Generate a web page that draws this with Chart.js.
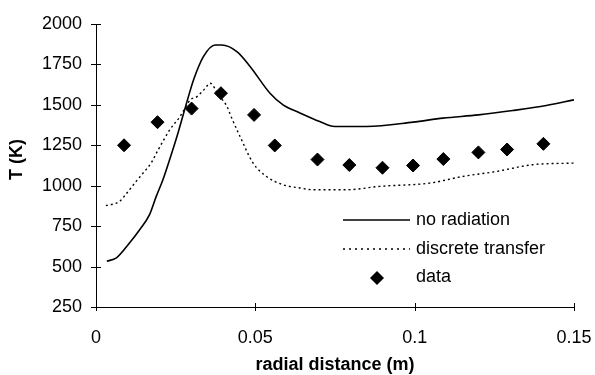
<!DOCTYPE html>
<html>
<head>
<meta charset="utf-8">
<script src="https://cdn.jsdelivr.net/npm/chart.js@4/dist/chart.umd.min.js"></script>
<style>
html,body{margin:0;padding:0;background:#fff;}
#wrap{position:relative;width:595px;height:375px;}
</style>
</head>
<body>
<div id="wrap"><canvas id="c" width="595" height="375"></canvas></div>
<script>
// ---- data ----
const noRadX = [0.0034,0.0064,0.0105,0.0137,0.0168,0.0189,0.021,0.0241,0.0254,0.029,0.0306,0.0337,0.0374,0.0395,0.0442,0.0484,0.0546,0.0587,0.064,0.0702,0.0749,0.0849,0.0995,0.1089,0.120,0.1308,0.1413,0.150];
const noRadY = [533,554,646,728,821,934,1037,1222,1304,1551,1654,1798,1870,1870,1829,1736,1572,1500,1450,1397,1366,1366,1393,1418,1438,1465,1496,1531];
const dtX = [0.0031,0.0074,0.009,0.0126,0.0152,0.0173,0.0194,0.0233,0.0264,0.0296,0.0317,0.0343,0.0358,0.0384,0.0411,0.0426,0.0452,0.0493,0.0535,0.0587,0.064,0.0681,0.0786,0.089,0.1047,0.115,0.1256,0.137,0.150];
const dtY = [877,903,938,1027,1088,1140,1218,1350,1428,1531,1551,1603,1634,1562,1490,1418,1304,1140,1057,1006,986,975,975,996,1016,1057,1088,1130,1140];
const dataX = [0.0088,0.0193,0.030,0.0392,0.0496,0.0561,0.0695,0.0795,0.0899,0.0995,0.109,0.120,0.129,0.1404];
const dataY = [1250,1393,1477,1572,1438,1249,1162,1128,1111,1125,1165,1206,1224,1259];
const xTicks = [0,0.05,0.1,0.15];
const yTicks = [250,500,750,1000,1250,1500,1750,2000];
const seriesNames = ['no radiation','discrete transfer','data'];
const xTitle = 'radial distance (m)';
const yTitle = 'T (K)';

const pts = (xs, ys) => xs.map((x, i) => ({x: x, y: ys[i]}));
const FONT = "'Liberation Sans', Arial, sans-serif";

const crossTicks = {
  id: 'crossTicks',
  afterDraw(chart) {
    const ctx = chart.ctx, xs = chart.scales.x, ys = chart.scales.y;
    ctx.save();
    ctx.strokeStyle = '#000';
    ctx.lineWidth = 1;
    ctx.beginPath();
    yTicks.forEach(v => {
      const p = Math.round(ys.getPixelForValue(v)) + 0.5;
      ctx.moveTo(xs.left - 5, p); ctx.lineTo(xs.left + 5, p);
    });
    xTicks.forEach(v => {
      const p = Math.round(xs.getPixelForValue(v)) + 0.5;
      ctx.moveTo(p, ys.bottom - 4); ctx.lineTo(p, ys.bottom + 4);
    });
    ctx.stroke();
    // axis titles
    ctx.fillStyle = '#000';
    ctx.font = 'bold 18px ' + FONT;
    ctx.textAlign = 'center';
    ctx.textBaseline = 'middle';
    ctx.fillText(xTitle, (xs.left + xs.right) / 2, 365);
    ctx.translate(17, (ys.top + ys.bottom) / 2 - 6);
    ctx.rotate(-Math.PI / 2);
    ctx.fillText(yTitle, 0, 0);
    ctx.restore();
  }
};

const legendBox = {
  id: 'legendBox',
  afterDraw(chart) {
    const ctx = chart.ctx;
    ctx.save();
    ctx.font = '18px ' + FONT;
    ctx.fillStyle = '#000';
    ctx.textBaseline = 'middle';
    ctx.textAlign = 'left';
    const x0 = 343, x1 = 410, tx = 416;
    const rows = [220, 249, 277];
    ctx.strokeStyle = '#000';
    ctx.lineWidth = 1.5;
    ctx.beginPath(); ctx.moveTo(x0, rows[0]); ctx.lineTo(x1, rows[0]); ctx.stroke();
    ctx.setLineDash([2, 4]);
    ctx.lineWidth = 1.3;
    ctx.beginPath(); ctx.moveTo(x0, rows[1]); ctx.lineTo(x1, rows[1]); ctx.stroke();
    ctx.setLineDash([]);
    const cx = 377, cy = rows[2] + 1, r = 7;
    ctx.beginPath();
    ctx.moveTo(cx - r, cy); ctx.lineTo(cx, cy - r); ctx.lineTo(cx + r, cy); ctx.lineTo(cx, cy + r);
    ctx.closePath(); ctx.fill();
    seriesNames.forEach((n, i) => ctx.fillText(n, tx, rows[i]));
    ctx.restore();
  }
};

new Chart(document.getElementById('c'), {
  type: 'scatter',
  data: {
    datasets: [
      {label: seriesNames[0], data: pts(noRadX, noRadY), showLine: true, borderColor: '#000', borderWidth: 1.6, pointRadius: 0, cubicInterpolationMode: 'monotone', fill: false},
      {label: seriesNames[1], data: pts(dtX, dtY), showLine: true, borderColor: '#000', borderWidth: 1.4, borderDash: [2, 3], pointRadius: 0, cubicInterpolationMode: 'monotone', fill: false},
      {label: seriesNames[2], data: pts(dataX, dataY), showLine: false, pointStyle: 'rectRot', pointRadius: 6.5, backgroundColor: '#000', borderColor: '#000', borderWidth: 1}
    ]
  },
  options: {
    responsive: false,
    animation: false,
    events: [],
    layout: {padding: {top: 24, right: 21, left: 0, bottom: 0}},
    plugins: {legend: {display: false}, tooltip: {enabled: false}},
    scales: {
      x: {
        type: 'linear', min: 0, max: 0.15,
        afterBuildTicks: s => { s.ticks = xTicks.map(v => ({value: v})); },
        afterFit: s => { s.height = 68; s.paddingLeft = 0; s.paddingRight = 0; },
        grid: {display: false, drawTicks: false},
        border: {display: true, color: '#000', width: 1},
        ticks: {color: '#000', font: {family: FONT, size: 18}, padding: 20, maxRotation: 0,
                callback: v => String(v)},
        title: {display: false}
      },
      y: {
        type: 'linear', min: 250, max: 2000,
        afterBuildTicks: s => { s.ticks = yTicks.map(v => ({value: v})); },
        afterFit: s => { s.width = 96; s.paddingTop = 0; s.paddingBottom = 0; },
        grid: {display: false, drawTicks: false},
        border: {display: true, color: '#000', width: 1},
        ticks: {color: '#000', font: {family: FONT, size: 18}, padding: 14,
                callback: v => String(v)},
        title: {display: false}
      }
    }
  },
  plugins: [crossTicks, legendBox]
});
</script>
</body>
</html>
